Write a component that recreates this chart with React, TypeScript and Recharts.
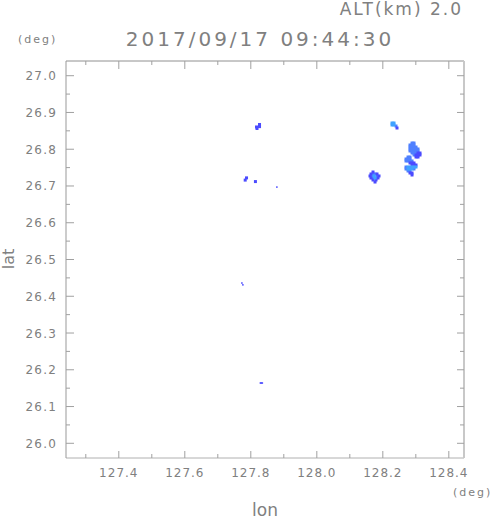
import { ScatterChart, Scatter, XAxis, YAxis } from 'recharts'

// axis ticks (deg)
const xMajorTicks = [127.4, 127.6, 127.8, 128.0, 128.2, 128.4]
const xMinorTicks = [127.3, 127.5, 127.7, 127.9, 128.1, 128.3]
const yMajorTicks = [26.0, 26.1, 26.2, 26.3, 26.4, 26.5, 26.6, 26.7, 26.8, 26.9, 27.0]
const yMinorTicks = [26.05, 26.15, 26.25, 26.35, 26.45, 26.55, 26.65, 26.75, 26.85, 26.95]

// echo cells [lon, lat], grouped by colour
const darkCells = [
  [127.8264, 26.8673], [127.8264, 26.8615], [127.8173, 26.8605], [127.8188, 26.8564],
  [127.787, 26.722], [127.783, 26.716], [127.814, 26.712],
  [128.243, 26.8577],
  [128.3067, 26.7897], [128.3127, 26.7897], [128.3006, 26.7843], [128.3067, 26.7843],
  [128.3127, 26.7843], [128.3006, 26.7788], [128.3067, 26.7788],
  [128.2824, 26.7625], [128.2885, 26.7625], [128.2945, 26.7625], [128.2885, 26.7571],
  [128.2945, 26.7571], [128.3006, 26.7571], [128.2824, 26.7353], [128.2885, 26.7353],
  [128.2885, 26.7299],
  [128.1703, 26.738], [128.1642, 26.7326], [128.1824, 26.7326], [128.1612, 26.7272],
  [128.1885, 26.7272], [128.1642, 26.7217], [128.1855, 26.7217], [128.1703, 26.7163],
  [128.1794, 26.7163], [128.1764, 26.7108],
]
const midCells = [
  [128.2885, 26.8169], [128.2945, 26.8169],
  [128.2824, 26.8115], [128.2885, 26.8115], [128.2945, 26.8115],
  [128.2824, 26.806], [128.2885, 26.806], [128.2945, 26.806], [128.3006, 26.806],
  [128.2824, 26.8006], [128.2885, 26.8006], [128.2945, 26.8006], [128.3006, 26.8006], [128.3067, 26.8006],
  [128.2824, 26.7952], [128.2885, 26.7952], [128.2945, 26.7952], [128.3006, 26.7952], [128.3067, 26.7952],
  [128.2885, 26.7897], [128.2945, 26.7897], [128.3006, 26.7897], [128.2945, 26.7843],
  [128.2764, 26.7788], [128.2824, 26.7788],
  [128.2703, 26.7734], [128.2764, 26.7734], [128.2824, 26.7734],
  [128.2703, 26.768], [128.2764, 26.768], [128.2824, 26.768], [128.2885, 26.768],
  [128.2703, 26.7516], [128.2703, 26.7462], [128.2764, 26.7408], [128.2824, 26.7408], [128.2945, 26.7462],
  [128.24, 26.8632],
  [128.1703, 26.7326], [128.1764, 26.7326], [128.1673, 26.7272], [128.1824, 26.7272],
  [128.1703, 26.7217], [128.1794, 26.7217],
]
const lightCells = [
  [128.2279, 26.8713], [128.2339, 26.8713], [128.2279, 26.8659], [128.2339, 26.8659],
  [128.2764, 26.7516], [128.2824, 26.7516], [128.2885, 26.7516], [128.2945, 26.7516],
  [128.3006, 26.7516], [128.2764, 26.7462], [128.2824, 26.7462], [128.2885, 26.7462],
  [128.1733, 26.7272], [128.1764, 26.7217],
]
const tinyCells = [
  [127.879, 26.697], [127.773, 26.436], [127.776, 26.431],
  [127.829, 26.164], [127.832, 26.164], [127.835, 26.164],
]

const toPoints = (cells: number[][]) => cells.map(([lon, lat]) => ({ lon, lat }))

const axisColor = '#a0a0a0'
const textColor = '#808080'
const font = '"DejaVu Sans", sans-serif'

const isMajor = (v: number, majors: number[]) => majors.some((m) => Math.abs(m - v) < 1e-6)

function BottomTick({ x, y, payload }: any) {
  const major = isMajor(payload.value, xMajorTicks)
  return (
    <g>
      <line x1={x} y1={y} x2={x} y2={y - (major ? 7 : 4)} stroke={axisColor} />
      {major && (
        <text x={x} y={y + 19} textAnchor="middle" fill={textColor} fontSize={12} letterSpacing={1} fontFamily={font}>
          {payload.value.toFixed(1)}
        </text>
      )}
    </g>
  )
}

function TopTick({ x, y, payload }: any) {
  const major = isMajor(payload.value, xMajorTicks)
  return <line x1={x} y1={y} x2={x} y2={y + (major ? 8 : 4)} stroke={axisColor} />
}

function LeftTick({ x, y, payload }: any) {
  const major = isMajor(payload.value, yMajorTicks)
  return (
    <g>
      <line x1={x} y1={y} x2={x + (major ? 8 : 4)} y2={y} stroke={axisColor} />
      {major && (
        <text x={x - 9} y={y + 4.5} textAnchor="end" fill={textColor} fontSize={12} letterSpacing={1.2} fontFamily={font}>
          {payload.value.toFixed(1)}
        </text>
      )}
    </g>
  )
}

function RightTick({ x, y, payload }: any) {
  const major = isMajor(payload.value, yMajorTicks)
  return <line x1={x} y1={y} x2={x - (major ? 7 : 4)} y2={y} stroke={axisColor} />
}

const cell = (size: number, color: string) => (props: any) => (
  <rect x={props.cx - size / 2} y={props.cy - size / 2} width={size} height={size} fill={color} />
)

export default function App() {
  const xTicks = [...xMinorTicks, ...xMajorTicks].sort((a, b) => a - b)
  const yTicks = [...yMinorTicks, ...yMajorTicks].sort((a, b) => a - b)
  return (
    <div style={{ position: 'fixed', left: 0, top: 0, width: 491, height: 521, background: '#fff' }}>
      <ScatterChart width={491} height={521} margin={{ top: 60, right: 26, bottom: 62, left: 65 }}>
        <XAxis xAxisId="b" type="number" dataKey="lon" domain={[127.24, 128.446]} allowDataOverflow
          ticks={xTicks} interval={0} height={1} tickSize={0} tickMargin={0} tickLine={false}
          tick={<BottomTick />} axisLine={{ stroke: '#b0b0b0' }} />
        <XAxis xAxisId="t" orientation="top" type="number" dataKey="lon" domain={[127.24, 128.446]} allowDataOverflow
          ticks={xTicks} interval={0} height={1} tickSize={0} tickMargin={0} tickLine={false}
          tick={<TopTick />} axisLine={{ stroke: '#909090' }} />
        <YAxis yAxisId="l" type="number" dataKey="lat" domain={[25.96, 27.04]} allowDataOverflow
          ticks={yTicks} interval={0} width={1} tickSize={0} tickMargin={0} tickLine={false}
          tick={<LeftTick />} axisLine={{ stroke: '#999999' }} />
        <YAxis yAxisId="r" orientation="right" type="number" dataKey="lat" domain={[25.96, 27.04]} allowDataOverflow
          ticks={yTicks} interval={0} width={1} tickSize={0} tickMargin={0} tickLine={false}
          tick={<RightTick />} axisLine={{ stroke: '#c8c8c8', strokeWidth: 2 }} />
        <Scatter xAxisId="b" yAxisId="l" data={toPoints(midCells)} shape={cell(3, '#4f80ff')} isAnimationActive={false} />
        <Scatter xAxisId="b" yAxisId="l" data={toPoints(darkCells)} shape={cell(3, '#4b4bff')} isAnimationActive={false} />
        <Scatter xAxisId="b" yAxisId="l" data={toPoints(lightCells)} shape={cell(3, '#40a2ff')} isAnimationActive={false} />
        <Scatter xAxisId="b" yAxisId="l" data={toPoints(tinyCells)} shape={cell(1.5, '#4040ff')} isAnimationActive={false} />
      </ScatterChart>
      <svg width={491} height={521} style={{ position: 'absolute', left: 0, top: 0, pointerEvents: 'none' }}>
        <g fill={textColor} fontFamily={font}>
          <text x={463} y={15} textAnchor="end" fontSize={17} letterSpacing={2}>ALT(km) 2.0</text>
          <text x={260} y={46} textAnchor="middle" fontSize={20} letterSpacing={3}>2017/09/17 09:44:30</text>
          <text x={18} y={43} fontSize={11} letterSpacing={2}>(deg)</text>
          <text x={453} y={496} fontSize={11} letterSpacing={2}>(deg)</text>
          <text x={265} y={516} textAnchor="middle" fontSize={17}>lon</text>
          <text x={14} y={259} textAnchor="middle" fontSize={16} transform="rotate(-90 14 259)">lat</text>
        </g>
      </svg>
    </div>
  )
}
